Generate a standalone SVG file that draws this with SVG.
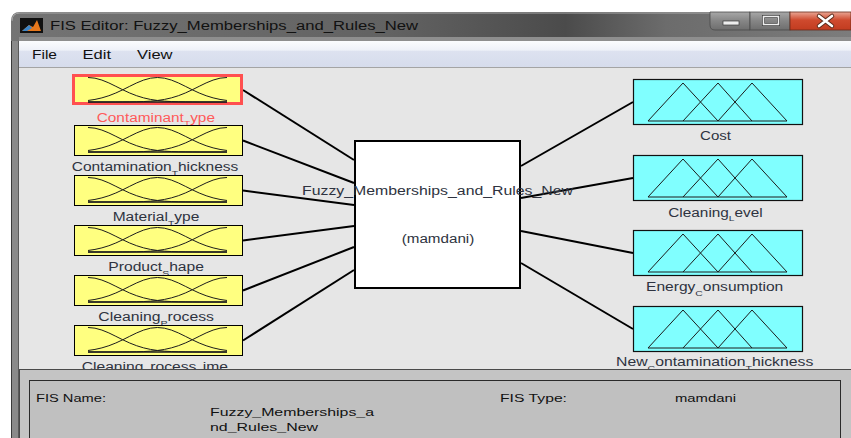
<svg xmlns="http://www.w3.org/2000/svg" xmlns:xlink="http://www.w3.org/1999/xlink" width="851" height="438" viewBox="0 0 851 438">
  <style>
    .lbl { font-family: "Liberation Sans", Arial, sans-serif; font-size: 12px; fill: #2e3340; }
    .sub { font-size: 8px; }
    .ui { font-family: "Liberation Sans", Arial, sans-serif; fill: #111; }
    .panel { font-family: "Liberation Sans", Arial, sans-serif; font-size: 10.5px; fill: #111; }
    .inbox { fill: #ffff80; stroke: #000; stroke-width: 1; }
    .outbox { fill: #80ffff; stroke: #111; stroke-width: 1.2; }
    .mf { fill: none; stroke: #1c1c1c; stroke-width: 1; stroke-linejoin: round; }
    .wire { stroke: #000; stroke-width: 2; fill: none; }
  </style>
  <defs>
    <linearGradient id="titleGrad" x1="0" y1="0" x2="1" y2="0">
      <stop offset="0" stop-color="#747474"/>
      <stop offset="0.45" stop-color="#626262"/>
      <stop offset="0.66" stop-color="#4b4b4b"/>
      <stop offset="0.78" stop-color="#6c6c6c"/>
      <stop offset="1" stop-color="#7c7c7c"/>
    </linearGradient>
    <linearGradient id="menuGrad" x1="0" y1="0" x2="0" y2="1">
      <stop offset="0" stop-color="#fbfcfe"/>
      <stop offset="0.35" stop-color="#eef1f8"/>
      <stop offset="0.4" stop-color="#dde2f0"/>
      <stop offset="1" stop-color="#d6dcec"/>
    </linearGradient>
    <linearGradient id="btnGrad" x1="0" y1="0" x2="0" y2="1">
      <stop offset="0" stop-color="#a8a8a8"/>
      <stop offset="0.5" stop-color="#858585"/>
      <stop offset="1" stop-color="#6e6e6e"/>
    </linearGradient>
    <linearGradient id="closeGrad" x1="0" y1="0" x2="0" y2="1">
      <stop offset="0" stop-color="#e9a694"/>
      <stop offset="0.45" stop-color="#cf4a2e"/>
      <stop offset="1" stop-color="#c23c20"/>
    </linearGradient>
    <!-- three gaussian membership curves, 139 x 24.5 -->
    <g id="gauss-mf" class="mf">
      <path d="M0,0 L6.95,0.67 13.9,2.58 20.85,5.42 27.8,8.8 34.75,12.27 41.7,15.5 48.65,18.23 55.6,20.37 62.55,21.93 69.5,22.98 76.45,23.65 83.4,24.05 90.35,24.28 97.3,24.39 104.25,24.45 111.2,24.5 139,24.5"/>
      <path d="M0,22.98 L6.95,21.93 13.9,20.37 20.85,18.23 27.8,15.5 34.75,12.27 41.7,8.8 48.65,5.42 55.6,2.58 62.55,0.67 69.5,0 76.45,0.67 83.4,2.58 90.35,5.42 97.3,8.8 104.25,12.27 111.2,15.5 118.15,18.23 125.1,20.37 132.05,21.93 139,22.98"/>
      <path d="M139,0 L132.05,0.67 125.1,2.58 118.15,5.42 111.2,8.8 104.25,12.27 97.3,15.5 90.35,18.23 83.4,20.37 76.45,21.93 69.5,22.98 62.55,23.65 55.6,24.05 48.65,24.28 41.7,24.39 34.75,24.45 27.8,24.5 0,24.5"/>
      <path d="M0,24.5 H139" stroke-width="1.6"/>
    </g>
    <!-- three triangular membership functions inside a 170 x 46 box -->
    <g id="tri-mf" class="mf">
      <polyline points="15,42 50,4 85,42"/>
      <polyline points="50,42 85,4 119,42"/>
      <polyline points="85,42 119,4 154,42"/>
      <path d="M15,42 H154"/>
    </g>
  </defs>

  <!-- page background -->
  <rect x="0" y="0" width="851" height="438" fill="#ffffff"/>

  <!-- window frame and title bar -->
  <rect x="11" y="38" width="8" height="400" fill="#8a8a8a"/>
  <line x1="11.5" y1="20" x2="11.5" y2="438" stroke="#3a3a3a" stroke-width="1"/>
  <line x1="18.5" y1="41" x2="18.5" y2="438" stroke="#5a5a5a" stroke-width="1"/>
  <path d="M11,21 Q11,12 20,12 L851,12 L851,41 L11,41 Z" fill="url(#titleGrad)"/>
  <path d="M12,21 Q12,13 20,13 L851,13" fill="none" stroke="#a8a8a8" stroke-width="1"/>
  <rect x="19" y="37" width="832" height="4" fill="#8e8e8e"/>

  <!-- application icon -->
  <g id="app-icon">
    <rect x="20" y="18" width="23" height="15" fill="#101010"/>
    <polygon points="22,31 29,25 33,27 37,20 41,31" fill="#e8781c"/>
    <polygon points="22,31 29,25 32,28 27,31" fill="#3c86c8"/>
  </g>
  <text class="ui" x="50" y="29.5" font-size="12.5" textLength="368" lengthAdjust="spacingAndGlyphs">FIS Editor: Fuzzy_Memberships_and_Rules_New</text>

  <!-- caption buttons -->
  <g id="caption-buttons">
    <path d="M710,12 L750,12 L750,30 L715,30 Q710,30 710,25 Z" fill="url(#btnGrad)" stroke="#4a4a4a" stroke-width="0.8"/>
    <rect x="750" y="12" width="40" height="18" fill="url(#btnGrad)" stroke="#4a4a4a" stroke-width="0.8"/>
    <rect x="790" y="12" width="61" height="18" fill="url(#closeGrad)" stroke="#6a2a1a" stroke-width="0.8"/>
    <rect x="723" y="21" width="16" height="4" fill="#eeeeee" stroke="#3a3a3a" stroke-width="0.7"/>
    <rect x="763.5" y="16.5" width="15" height="8" fill="none" stroke="#3a3a3a" stroke-width="3"/>
    <rect x="763.5" y="16.5" width="15" height="8" fill="none" stroke="#eeeeee" stroke-width="1.6"/>
    <path d="M819,16 L832,26 M832,16 L819,26" stroke="#5a2a1a" stroke-width="4.5" stroke-linecap="round"/>
    <path d="M819,16 L832,26 M832,16 L819,26" stroke="#ffffff" stroke-width="2.6" stroke-linecap="round"/>
  </g>

  <!-- menu bar -->
  <rect x="19" y="41" width="832" height="26" fill="url(#menuGrad)"/>
  <line x1="19" y1="67.5" x2="851" y2="67.5" stroke="#a4a4a4" stroke-width="1"/>
  <text class="ui" x="32" y="58.5" font-size="12.5" textLength="25" lengthAdjust="spacingAndGlyphs">File</text>
  <text class="ui" x="82.5" y="58.5" font-size="12.5" textLength="28.5" lengthAdjust="spacingAndGlyphs">Edit</text>
  <text class="ui" x="137" y="58.5" font-size="12.5" textLength="35.5" lengthAdjust="spacingAndGlyphs">View</text>

  <!-- editor canvas -->
  <rect x="19" y="68" width="832" height="302" fill="#e6e6e6"/>

  <!-- connectors -->
  <g id="connectors">
    <line class="wire" x1="243" y1="90" x2="354" y2="160"/>
    <line class="wire" x1="243" y1="140.5" x2="354" y2="183"/>
    <line class="wire" x1="243" y1="190.5" x2="354" y2="205"/>
    <line class="wire" x1="243" y1="240.5" x2="354" y2="226"/>
    <line class="wire" x1="243" y1="290.5" x2="354" y2="247"/>
    <line class="wire" x1="243" y1="340.5" x2="354" y2="270"/>
    <line class="wire" x1="521" y1="166" x2="633" y2="102"/>
    <line class="wire" x1="521" y1="198" x2="633" y2="178"/>
    <line class="wire" x1="521" y1="231" x2="633" y2="253"/>
    <line class="wire" x1="521" y1="263" x2="633" y2="329"/>
  </g>

  <!-- input variables -->
  <g id="in-contaminant-type">
    <rect x="73.5" y="75.5" width="168" height="28" fill="#ffff80" stroke="#ff5050" stroke-width="3"/>
    <use href="#gauss-mf" x="88" y="77.5"/>
    <text class="lbl" x="96.7" y="121.5" textLength="118.3" lengthAdjust="spacingAndGlyphs" style="fill:#ff5a5a">Contaminant<tspan class="sub" dy="4.5">T</tspan><tspan dy="-4.5">ype</tspan></text>
  </g>
  <g id="in-contamination-thickness">
    <rect class="inbox" x="74.5" y="125.5" width="168" height="30"/>
    <use href="#gauss-mf" x="88" y="127.5"/>
    <text class="lbl" x="71.7" y="171" textLength="166.6" lengthAdjust="spacingAndGlyphs">Contamination<tspan class="sub" dy="4.5">T</tspan><tspan dy="-4.5">hickness</tspan></text>
  </g>
  <g id="in-material-type">
    <rect class="inbox" x="74.5" y="175.5" width="168" height="30"/>
    <use href="#gauss-mf" x="88" y="177.5"/>
    <text class="lbl" x="112.7" y="221" textLength="86.6" lengthAdjust="spacingAndGlyphs">Material<tspan class="sub" dy="4.5">T</tspan><tspan dy="-4.5">ype</tspan></text>
  </g>
  <g id="in-product-shape">
    <rect class="inbox" x="74.5" y="225.5" width="168" height="30"/>
    <use href="#gauss-mf" x="88" y="227.5"/>
    <text class="lbl" x="108.3" y="271" textLength="95.7" lengthAdjust="spacingAndGlyphs">Product<tspan class="sub" dy="4.5">S</tspan><tspan dy="-4.5">hape</tspan></text>
  </g>
  <g id="in-cleaning-process">
    <rect class="inbox" x="74.5" y="275.5" width="168" height="30"/>
    <use href="#gauss-mf" x="88" y="277.5"/>
    <text class="lbl" x="98.3" y="321" textLength="115.7" lengthAdjust="spacingAndGlyphs">Cleaning<tspan class="sub" dy="4.5">P</tspan><tspan dy="-4.5">rocess</tspan></text>
  </g>
  <g id="in-cleaning-process-time">
    <rect class="inbox" x="74.5" y="325.5" width="168" height="30"/>
    <use href="#gauss-mf" x="88" y="327.5"/>
    <text class="lbl" x="81.7" y="371" textLength="146.3" lengthAdjust="spacingAndGlyphs">Cleaning<tspan class="sub" dy="4.5">P</tspan><tspan dy="-4.5">rocess</tspan><tspan class="sub" dy="4.5">T</tspan><tspan dy="-4.5">ime</tspan></text>
  </g>

  <!-- inference system -->
  <g id="system">
    <rect x="355" y="141" width="165" height="147" fill="#ffffff" stroke="#000" stroke-width="2"/>
    <text class="lbl" x="302" y="194.5" textLength="271" lengthAdjust="spacingAndGlyphs">Fuzzy_Memberships_and_Rules_New</text>
    <text class="lbl" x="401.7" y="242.5" textLength="72.6" lengthAdjust="spacingAndGlyphs">(mamdani)</text>
  </g>

  <!-- output variables -->
  <g id="out-cost">
    <rect class="outbox" x="633.5" y="79.5" width="169" height="45"/>
    <use href="#tri-mf" x="633" y="79"/>
    <text class="lbl" x="700" y="140" textLength="31" lengthAdjust="spacingAndGlyphs">Cost</text>
  </g>
  <g id="out-cleaning-level">
    <rect class="outbox" x="633.5" y="155.5" width="169" height="45"/>
    <use href="#tri-mf" x="633" y="155"/>
    <text class="lbl" x="668.3" y="216.7" textLength="94.4" lengthAdjust="spacingAndGlyphs">Cleaning<tspan class="sub" dy="4.5">L</tspan><tspan dy="-4.5">evel</tspan></text>
  </g>
  <g id="out-energy-consumption">
    <rect class="outbox" x="633.5" y="230.5" width="169" height="45"/>
    <use href="#tri-mf" x="633" y="230"/>
    <text class="lbl" x="646" y="291" textLength="137.3" lengthAdjust="spacingAndGlyphs">Energy<tspan class="sub" dy="4.5">C</tspan><tspan dy="-4.5">onsumption</tspan></text>
  </g>
  <g id="out-new-contamination-thickness">
    <rect class="outbox" x="633.5" y="306.5" width="169" height="45"/>
    <use href="#tri-mf" x="633" y="306"/>
    <text class="lbl" x="616" y="366" textLength="197.3" lengthAdjust="spacingAndGlyphs">New<tspan class="sub" dy="4.5">C</tspan><tspan dy="-4.5">ontamination</tspan><tspan class="sub" dy="4.5">T</tspan><tspan dy="-4.5">hickness</tspan></text>
  </g>

  <!-- status panel -->
  <g id="status-panel">
    <rect x="19" y="369" width="832" height="69" fill="#c4c4c4"/>
    <line x1="19" y1="369.5" x2="851" y2="369.5" stroke="#4a4a4a" stroke-width="1"/>
    <line x1="19.5" y1="369" x2="19.5" y2="438" stroke="#4a4a4a" stroke-width="1"/>
    <rect x="29.5" y="380.5" width="811" height="70" fill="#c0c0c0" stroke="#2a2a2a" stroke-width="1"/>
    <text class="panel" x="36" y="401.5" textLength="70" lengthAdjust="spacingAndGlyphs">FIS Name:</text>
    <text class="panel" x="500" y="401.5" textLength="67" lengthAdjust="spacingAndGlyphs">FIS Type:</text>
    <text class="panel" x="675" y="401.5" textLength="61" lengthAdjust="spacingAndGlyphs">mamdani</text>
    <text class="panel" x="210" y="416" textLength="164" lengthAdjust="spacingAndGlyphs">Fuzzy_Memberships_a</text>
    <text class="panel" x="210" y="431" textLength="108" lengthAdjust="spacingAndGlyphs">nd_Rules_New</text>
  </g>
</svg>
